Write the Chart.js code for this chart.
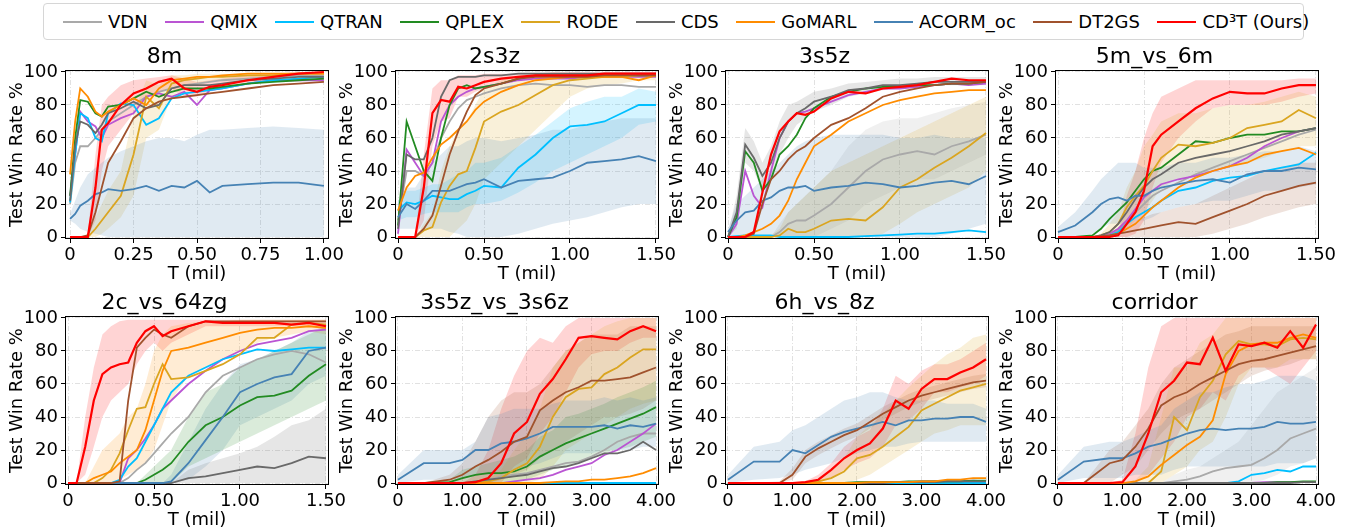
<!DOCTYPE html>
<html>
<head>
<meta charset="utf-8">
<script src="https://cdn.jsdelivr.net/npm/chart.js@4.4.1/dist/chart.umd.min.js"></script>
<style>
body{margin:0;width:1349px;height:531px;overflow:hidden;background:#fff;position:relative;font-family:"DejaVu Sans",sans-serif}
#legend{position:absolute;left:43px;top:3px;width:1261px;height:37px;box-sizing:border-box;border:1px solid #d6d6d6;border-radius:4px;display:flex;align-items:center;padding-left:19px;font-size:18px;color:#000;white-space:nowrap}
.item{display:flex;align-items:center;margin-right:17.5px}
.item i{display:inline-block;width:39px;height:2px;margin-right:6px}
canvas{position:absolute}
</style>
</head>
<body>
<div id="legend"></div>
<script>
const NAMES = ['VDN','QMIX','QTRAN','QPLEX','RODE','CDS','GoMARL','ACORM_oc','DT2GS','CD³T (Ours)'];
const COLORS = ['#a9a9a9','#ba55d3','#00bfff','#228b22','#daa520','#696969','#ff8c00','#4682b4','#a0522d','#ff0000'];

// x sample points (million steps)
const t8m = [0,0.02,0.04,0.07,0.1,0.125,0.15,0.2,0.25,0.3,0.35,0.4,0.45,0.5,0.55,0.6,0.7,0.8,0.9,1.0];
const t15 = [0,0.05,0.1,0.15,0.2,0.25,0.3,0.35,0.4,0.45,0.5,0.6,0.7,0.8,0.9,1.0,1.1,1.2,1.3,1.4,1.5];
const t56 = [0,0.1,0.2,0.25,0.3,0.35,0.4,0.45,0.5,0.55,0.6,0.7,0.8,0.9,1.0,1.1,1.2,1.3,1.4,1.5];
const t2c = [0,0.05,0.1,0.15,0.2,0.25,0.3,0.35,0.4,0.45,0.5,0.55,0.6,0.7,0.8,0.9,1.0,1.1,1.2,1.3,1.4,1.5];
const t4 = [0,0.4,0.8,1.0,1.2,1.4,1.6,1.8,2.0,2.2,2.4,2.6,2.8,3.0,3.2,3.4,3.6,3.8,4.0];

// tick values / labels
const ticks8m = [0,0.25,0.5,0.75,1.0];
const labels8m = ['0','0.25','0.50','0.75','1.00'];
const ticks15 = [0,0.5,1.0,1.5];
const labels15 = ['0','0.50','1.00','1.50'];
const ticks4 = [0,1,2,3,4];
const labels4 = ['0','1.00','2.00','3.00','4.00'];
const yTicks = [0,20,40,60,80,100];

// 8m
const m8_VDN    = [20,45,55,55,60,65,70,75,80,85,88,90,92,93,94,95,96,97,98,98];
const m8_QMIX   = [25,50,76,70,67,60,68,72,75,85,87,85,88,80,89,90,93,95,95,95];
const m8_QTRAN  = [21,50,75,72,60,58,75,81,80,68,72,84,87,88,89,90,93,95,96,97];
const m8_QPLEX  = [25,60,83,82,75,73,79,80,84,88,85,88,90,90,90,91,93,94,95,96];
const m8_RODE   = [0,0,0,0,5,10,15,25,50,85,78,93,95,96,97,97,98,98,99,99];
const m8_CDS    = [22,55,70,68,63,68,75,78,82,78,80,90,92,92,92,93,95,96,97,97];
const m8_GoMARL = [38,70,90,85,76,73,76,80,84,80,90,95,96,97,97,98,99,99,99,99];
const m8_ACORM  = [11,14,19,22,26,27,29,28,29,31,28,31,30,34,27,31,32,33,33,31];
const m8_DT2GS  = [0,0,0,1,15,30,45,58,72,78,82,84,85,86,87,88,90,92,93,94];
const m8_CD3T   = [0,0,0,0,30,65,69,80,87,90,94,96,90,88,91,92,95,97,99,100];
const m8_ACORM_lo = [10,8,5,3,2,1,0,0,0,0,0,0,0,0,0,0,0,0,0,0];
const m8_ACORM_hi = [14,22,30,38,42,45,48,52,55,58,60,60,58,62,65,65,66,67,66,65];
const m8_RODE_lo  = [0,0,0,0,0,2,5,12,25,60,65,85,90,92,94,95,96,97,98,98];
const m8_RODE_hi  = [0,0,0,2,12,20,28,40,75,95,92,98,98,99,99,99,99,99,100,100];
const m8_CD3T_lo  = [0,0,0,0,10,40,55,65,75,85,88,90,85,85,88,90,93,96,98,99];
const m8_CD3T_hi  = [0,0,0,2,50,80,85,92,95,96,97,98,96,94,95,96,98,99,100,100];

// 2s3z
const s23_VDN    = [10,40,40,37,45,60,70,78,83,85,87,90,92,93,92,92,91,92,92,91,91];
const s23_QMIX   = [2,53,45,37,45,70,80,85,88,90,91,93,95,96,96,96,97,97,97,97,97];
const s23_QTRAN  = [16,21,20,22,25,24,23,23,26,28,31,30,42,50,60,67,68,70,75,80,80];
const s23_QPLEX  = [7,70,55,40,34,60,80,90,92,90,91,93,96,98,98,98,98,98,98,98,98];
const s23_RODE   = [0,0,0,4,6,21,31,38,40,54,70,76,80,86,92,95,96,97,97,98,98];
const s23_CDS    = [5,50,47,47,60,85,95,97,97,97,98,98,99,99,99,99,99,99,99,99,99];
const s23_GoMARL = [16,30,37,39,48,56,60,65,70,77,82,88,92,95,96,97,97,97,97,95,98];
const s23_ACORM  = [12,20,17,22,28,28,28,30,32,33,35,30,34,35,36,40,45,46,47,49,46];
const s23_DT2GS  = [0,0,0,5,13,31,50,64,76,86,90,93,96,97,97,97,97,98,98,98,98];
const s23_CD3T   = [0,0,0,30,75,83,82,91,90,92,94,96,97,98,98,98,98,99,99,99,99];
const s23_ACORM_lo = [5,5,5,5,5,5,3,2,0,0,0,0,2,5,8,10,12,15,18,20,20];
const s23_ACORM_hi = [20,30,30,38,45,50,55,55,58,60,60,58,60,62,65,65,68,70,72,72,72];
const s23_QTRAN_lo = [10,12,12,14,15,15,15,15,18,20,20,22,27,33,40,45,50,55,60,68,70];
const s23_QTRAN_hi = [22,28,28,30,32,32,35,38,40,45,45,48,55,62,70,78,82,85,85,90,88];
const s23_RODE_lo  = [0,0,0,0,0,0,0,5,10,20,35,45,55,65,75,85,90,92,93,95,95];
const s23_RODE_hi  = [0,0,0,8,15,40,55,65,70,80,90,95,98,99,99,99,99,99,99,99,99];
const s23_CD3T_lo  = [0,0,0,10,55,70,72,85,85,88,90,93,95,96,96,96,96,97,97,97,97];
const s23_CD3T_hi  = [0,0,0,50,90,95,95,98,98,98,99,99,99,99,100,100,100,100,100,100,100];

// 3s5z
const s35_VDN    = [0,0,0,0,0,0,3,8,10,10,13,20,30,40,47,50,52,50,55,58,62];
const s35_QMIX   = [0,8,40,25,18,40,60,70,75,76,78,82,86,88,90,90,91,92,93,92,93];
const s35_QTRAN  = [0,0.5,1,1,1,1,0,0,0,0,0,0,0,0.5,1,1.5,2,2,3,4,3];
const s35_QPLEX  = [0,12,52,45,28,35,50,55,62,72,78,85,88,90,91,91,92,92,93,93,94];
const s35_RODE   = [0,0,0,0,0,0,1,5,3,3,5,10,11,10,18,30,35,42,48,55,63];
const s35_CDS    = [0,15,56,48,37,45,60,70,75,78,82,85,89,90,92,92,93,94,94,94,94];
const s35_GoMARL = [0,0,1,3,5,8,13,22,35,45,55,62,70,75,80,83,85,87,88,89,89];
const s35_ACORM  = [3,10,15,16,22,24,28,30,30,31,28,30,31,33,32,30,31,33,34,32,37];
const s35_DT2GS  = [0,0,0,2,20,35,40,47,52,55,60,68,72,78,85,88,90,92,93,93,94];
const s35_CD3T   = [0,0,0,3,27,50,64,70,75,74,76,84,88,87,90,91,92,94,96,95,95];
const s35_ACORM_lo = [0,0,0,0,0,0,0,0,0,0,0,0,0,0,0,0,0,0,2,5,8];
const s35_ACORM_hi = [5,20,25,30,35,40,45,50,55,58,60,62,62,62,62,60,60,62,60,60,60];
const s35_RODE_lo  = [0,0,0,0,0,0,0,0,0,0,0,0,0,0,2,8,15,20,25,30,40];
const s35_RODE_hi  = [0,0,0,0,0,1,5,15,20,25,30,40,45,50,55,60,65,70,75,80,85];
const s35_VDN_lo   = [0,0,0,0,0,0,0,0,0,0,0,5,10,20,25,30,35,35,40,45,50];
const s35_VDN_hi   = [0,0,0,0,0,0,8,15,20,25,30,40,55,65,70,72,72,75,78,80,82];
const s35_CDS_lo   = [0,5,45,40,28,35,50,60,68,72,76,80,85,87,89,90,91,92,92,92,92];
const s35_CDS_hi   = [2,25,66,58,45,55,70,80,82,85,88,90,93,94,95,96,96,97,97,97,97];

// 5m_vs_6m
const m56_VDN    = [0,0,0,0,1,4,9,15,20,25,28,33,38,42,46,50,54,58,62,65];
const m56_QMIX   = [0,0,0,0,2,5,10,17,24,28,32,35,37,40,43,48,55,60,64,66];
const m56_QTRAN  = [0,0,0,0,1,3,8,12,15,18,22,28,30,34,36,37,40,42,44,51];
const m56_QPLEX  = [0,0,1,5,11,16,21,28,35,40,42,50,58,57,60,62,62,64,64,66];
const m56_RODE   = [0,0,0,1,3,8,18,25,31,40,48,56,55,57,60,66,68,70,77,72];
const m56_CDS    = [0,0,0,1,3,8,15,23,30,35,38,45,48,50,52,55,58,62,64,66];
const m56_GoMARL = [0,0,0,0,1,2,5,8,13,18,22,30,36,40,43,45,50,52,54,50];
const m56_ACORM  = [3,7,15,20,23,24,22,25,25,28,30,32,34,35,33,38,40,40,42,41];
const m56_DT2GS  = [0,0,0,0.5,1,2,3,4,5,6,7,9,8,12,16,20,25,28,31,33];
const m56_CD3T   = [0,0,0,0,0,1,8,15,28,55,62,70,78,84,88,87,87,90,92,92];
const m56_CD3T_lo  = [0,0,0,0,0,0,0,2,10,30,45,60,70,78,80,80,80,82,85,87];
const m56_CD3T_hi  = [0,0,0,0,0,3,25,40,60,75,85,90,95,95,95,95,95,95,96,96];
const m56_ACORM_lo = [0,0,2,5,8,8,8,10,10,12,15,18,20,22,22,25,28,28,30,32];
const m56_ACORM_hi = [6,15,28,35,40,45,45,45,42,42,42,45,45,48,48,50,52,52,55,52];
const m56_RODE_lo  = [0,0,0,0,0,2,5,10,15,22,30,35,38,40,42,45,48,52,55,55];
const m56_RODE_hi  = [0,0,0,2,8,15,30,40,55,62,70,75,75,78,80,80,82,85,88,85];
const m56_DT2GS_lo = [0,0,0,0,0,0,0,0,0,0,0,0,0,2,5,8,12,15,18,20];
const m56_DT2GS_hi = [0,0,0,2,3,5,8,10,12,14,15,18,20,25,30,35,40,42,45,45];

// 2c_vs_64zg
const c2_VDN    = [0,0,0,0,0,0,0,3,8,12,18,24,30,40,55,65,70,75,78,80,78,73];
const c2_QMIX   = [0,0,0,0,0,0,0,15,20,27,35,45,50,60,68,75,80,84,86,88,92,93];
const c2_QTRAN  = [0,0,0,0,0,0,2,10,15,25,35,45,55,65,70,75,78,81,80,81,82,82];
const c2_QPLEX  = [0,0,0,0,0,0,0,0,0,2,5,8,12,25,35,40,47,52,53,56,65,72];
const c2_RODE   = [0,0,0,0,3,8,18,32,45,46,60,72,63,64,68,72,78,88,88,96,97,96];
const c2_CDS    = [0,0,0,0,0,0,0,0,0,0,0,0,0,3,4,6,8,10,9,12,16,15];
const c2_GoMARL = [0,0,0,3,5,7,12,16,20,32,50,68,80,82,85,88,91,93,94,94,95,94];
const c2_ACORM  = [0,0,0,0,0,0,0,0,0,0,0,0,1,12,26,40,55,60,64,66,80,82];
const c2_DT2GS  = [0,0,0,0,0,0,1,50,82,88,93,90,88,95,98,98,98,98,98,98,98,98];
const c2_CD3T   = [0,0,22,50,66,70,72,73,85,92,95,89,92,95,98,97,97,97,97,96,97,95];
const c2_CD3T_lo   = [0,0,5,22,40,50,55,60,72,80,85,80,85,90,95,95,95,95,95,95,95,93];
const c2_CD3T_hi   = [0,0,40,70,90,95,98,99,99,99,99,99,99,99,99,99,99,99,99,99,99,99];
const c2_CDS_lo    = [0,0,0,0,0,0,0,0,0,0,0,0,0,0,0,0,0,0,0,0,0,0];
const c2_CDS_hi    = [0,0,0,0,0,0,0,0,0,0,0,0,0,8,12,15,18,22,28,35,38,45];
const c2_QPLEX_lo  = [0,0,0,0,0,0,0,0,0,0,0,0,0,10,15,20,25,30,35,40,45,50];
const c2_QPLEX_hi  = [0,0,0,0,0,0,0,0,0,5,10,15,20,40,55,60,70,75,80,85,90,95];
const c2_GoMARL_lo = [0,0,0,0,0,0,2,5,8,12,20,35,50,65,70,75,80,85,88,90,92,90];
const c2_GoMARL_hi = [0,0,0,10,20,25,30,40,45,60,80,90,95,97,98,98,99,99,99,99,99,99];
const c2_ACORM_lo  = [0,0,0,0,0,0,0,0,0,0,0,0,0,2,10,20,35,40,45,50,60,65];
const c2_ACORM_hi  = [0,0,0,0,0,0,0,0,0,0,0,0,5,25,45,60,72,75,80,85,92,95];

// 3s5z_vs_3s6z
const z36_VDN    = [0,0,0,0,1,2,4,5,6,8,10,12,13,16,20,25,28,30,30];
const z36_QMIX   = [0,0,0,0,0,0,0,1,2,3,5,8,10,12,17,20,25,30,36];
const z36_QTRAN  = [0,0,0,0,0,0,0,0,0,0,0,0,0,0,0,0,0,0,0];
const z36_QPLEX  = [0,0,0.5,3,5,6,6,7,10,16,20,24,27,30,33,36,39,42,46];
const z36_RODE   = [0,0,0,0,0,1,3,8,12,22,40,52,57,58,66,70,76,81,81];
const z36_CDS    = [0,0,0,0,1,2,3,4,5,7,9,10,12,15,18,18,20,25,20];
const z36_GoMARL = [0,0,0,0,0,0,0,0,0,0,0.5,1,1,2,2,3,4,6,9];
const z36_ACORM  = [2,12,12,14,20,20,24,25,27,30,34,34,34,34,35,33,35,34,36];
const z36_DT2GS  = [0,0,2,5,10,14,19,25,28,44,50,55,58,62,62,63,64,67,70];
const z36_CD3T   = [0,0,0,0,0.5,3,12,30,37,54,63,75,88,89,88,87,92,95,92];
const z36_CD3T_lo  = [0,0,0,0,0,0,0,10,15,30,40,55,70,78,80,80,85,88,88];
const z36_CD3T_hi  = [0,0,0,0,5,20,45,65,80,88,85,95,100,100,100,100,100,100,100];
const z36_ACORM_lo = [0,2,2,3,5,5,5,8,10,12,15,18,18,18,20,20,20,22,22];
const z36_ACORM_hi = [5,20,20,20,25,40,42,45,45,45,48,50,50,50,52,50,52,50,52];
const z36_DT2GS_lo = [0,0,0,0,0,0,2,5,8,15,20,25,30,35,40,40,42,45,50];
const z36_DT2GS_hi = [0,0,5,12,25,40,50,55,55,60,70,80,85,90,90,90,95,95,95];
const z36_RODE_lo  = [0,0,0,0,0,0,0,0,0,2,10,20,25,30,35,40,45,48,50];
const z36_RODE_hi  = [0,0,0,0,0,2,8,20,30,45,70,80,85,90,95,98,100,100,100];
const z36_QPLEX_lo = [0,0,0,0,0,0,0,0,2,5,8,10,12,15,18,20,22,25,28];
const z36_QPLEX_hi = [0,0,2,8,10,12,14,16,20,28,32,40,42,45,48,52,55,58,62];

// 6h_vs_8z
const h6_VDN    = [0,0,0,0,0,0,0,0,0,0.5,0.5,0.5,0.5,0.5,1,1,1,1,1];
const h6_QMIX   = [0,0,0,0,0,0,0,0,0,0,0.5,0.5,0.5,1,1,1,1,1.5,1];
const h6_QTRAN  = [0,0,0,0,0,0,0,0,0,0,0,0,0,0,0,0,0,0,0];
const h6_QPLEX  = [0,0,0,0,0,0,0,0,0.5,0.5,0.5,0.5,1,1,1,1,1,1.5,1.5];
const h6_RODE   = [0,0,0,0,0,1,3,7,15,17,22,28,34,44,48,52,56,58,60];
const h6_CDS    = [0,0,0,0,0,0,0,0,0,0,0,0.5,0.5,0.5,0.5,1,1,1,1];
const h6_GoMARL = [0,0,0,0,0,0,0,0,0,0.5,0.5,0.5,0.5,1,1,2,2,3,3];
const h6_ACORM  = [2,13,13,20,18,23,28,31,33,35,37,35,38,38,39,39,40,40,37];
const h6_DT2GS  = [0,0,0,5,16,21,25,29,32,37,42,46,50,53,55,57,59,61,62];
const h6_CD3T   = [0,0,0,0,0.5,2,8,15,20,24,33,50,45,57,63,63,67,70,75];
const h6_ACORM_lo = [0,2,3,5,8,10,12,15,18,20,22,22,24,25,25,25,25,25,25];
const h6_ACORM_hi = [5,22,25,32,35,40,45,50,52,55,55,52,50,50,50,48,48,48,45];
const h6_RODE_lo  = [0,0,0,0,0,0,0,0,2,5,10,15,20,25,30,32,35,35,35];
const h6_RODE_hi  = [0,0,0,0,0,2,8,15,28,35,42,50,58,65,72,78,82,88,90];
const h6_CD3T_lo  = [0,0,0,0,0,0,3,8,12,15,22,35,38,45,55,55,58,60,65];
const h6_CD3T_hi  = [0,0,0,0,1,5,12,22,28,32,45,65,60,68,72,72,75,80,85];
const h6_DT2GS_lo = [0,0,0,2,12,17,21,25,28,33,38,42,46,49,51,53,55,57,58];
const h6_DT2GS_hi = [0,0,1,9,20,25,29,33,36,41,46,50,54,57,59,61,63,65,66];

// corridor
const co_VDN    = [0,0,0,0,0,0,0,1,2,4,7,9,10,11,15,20,27,30,33];
const co_QMIX   = [0,0,0,0,0,0,0,0,0,0,0,0,0,0,0.5,0.5,0.5,0.5,0.5];
const co_QTRAN  = [0,0,0,0,0,0,0,0,0,0,0,0,1,5,6,8,7,10,10];
const co_QPLEX  = [0,0,0,0,0,0,0,0,0,0,0,0,0,0,0,0.5,0.5,1,1];
const co_RODE   = [0,0,0,0,0,0,7,40,32,52,62,78,86,84,84,83,87,88,87];
const co_CDS    = [0,0,0,0,0,0,0,0,0,0,0,0,0,0,0,0,0,0.5,0.5];
const co_GoMARL = [0,0,0,0,1,4,11,17,23,28,38,66,80,84,85,85,88,90,88];
const co_ACORM  = [2,13,15,15,18,22,24,27,30,32,33,32,33,33,34,37,36,36,37];
const co_DT2GS  = [0,0,12,14,22,33,47,52,55,60,64,68,72,74,75,77,79,81,83];
const co_CD3T   = [0,0,0,0.5,10,30,55,62,73,72,88,68,84,83,85,82,92,82,96];
const co_CD3T_lo  = [0,0,0,0,0,5,15,25,40,45,55,50,65,70,70,65,60,70,80];
const co_CD3T_hi  = [0,0,0,2,30,70,95,100,100,100,100,100,100,100,100,100,100,100,100];
const co_ACORM_lo = [0,3,3,3,5,5,5,8,10,10,10,10,10,10,10,12,12,12,15];
const co_ACORM_hi = [5,22,25,25,28,32,35,45,50,55,55,58,60,60,62,65,65,65,62];
const co_DT2GS_lo = [0,0,0,5,10,20,30,38,42,45,50,55,60,65,68,70,72,75,75];
const co_DT2GS_hi = [0,0,20,25,35,45,60,70,75,80,85,90,92,95,95,95,95,95,95];
const co_RODE_lo  = [0,0,0,0,0,0,0,5,10,20,25,40,60,70,70,70,75,75,75];
const co_RODE_hi  = [0,0,0,0,2,10,40,70,70,85,90,100,100,100,100,100,100,100,100];
const co_VDN_lo   = [0,0,0,0,0,0,0,0,0,0,0,0,0,0,2,5,10,12,15];
const co_VDN_hi   = [0,0,0,0,0,0,0,5,8,10,15,20,25,35,45,55,60,65,70];

const PANELS = [
  {title:'8m', t:t8m, xMin:-0.02, xMax:1.02, xTicks:ticks8m, xLabels:labels8m,
   ys:[m8_VDN,m8_QMIX,m8_QTRAN,m8_QPLEX,m8_RODE,m8_CDS,m8_GoMARL,m8_ACORM,m8_DT2GS,m8_CD3T],
   bands:[[7,m8_ACORM_lo,m8_ACORM_hi],[4,m8_RODE_lo,m8_RODE_hi],[9,m8_CD3T_lo,m8_CD3T_hi]]},
  {title:'2s3z', t:t15, xMin:-0.0175, xMax:1.5175, xTicks:ticks15, xLabels:labels15,
   ys:[s23_VDN,s23_QMIX,s23_QTRAN,s23_QPLEX,s23_RODE,s23_CDS,s23_GoMARL,s23_ACORM,s23_DT2GS,s23_CD3T],
   bands:[[7,s23_ACORM_lo,s23_ACORM_hi],[2,s23_QTRAN_lo,s23_QTRAN_hi],[4,s23_RODE_lo,s23_RODE_hi],[9,s23_CD3T_lo,s23_CD3T_hi]]},
  {title:'3s5z', t:t15, xMin:-0.0175, xMax:1.5175, xTicks:ticks15, xLabels:labels15,
   ys:[s35_VDN,s35_QMIX,s35_QTRAN,s35_QPLEX,s35_RODE,s35_CDS,s35_GoMARL,s35_ACORM,s35_DT2GS,s35_CD3T],
   bands:[[7,s35_ACORM_lo,s35_ACORM_hi],[4,s35_RODE_lo,s35_RODE_hi],[0,s35_VDN_lo,s35_VDN_hi],[5,s35_CDS_lo,s35_CDS_hi]]},
  {title:'5m_vs_6m', t:t56, xMin:-0.0175, xMax:1.5175, xTicks:ticks15, xLabels:labels15,
   ys:[m56_VDN,m56_QMIX,m56_QTRAN,m56_QPLEX,m56_RODE,m56_CDS,m56_GoMARL,m56_ACORM,m56_DT2GS,m56_CD3T],
   bands:[[7,m56_ACORM_lo,m56_ACORM_hi],[4,m56_RODE_lo,m56_RODE_hi],[8,m56_DT2GS_lo,m56_DT2GS_hi],[9,m56_CD3T_lo,m56_CD3T_hi]]},
  {title:'2c_vs_64zg', t:t2c, xMin:-0.0175, xMax:1.5175, xTicks:ticks15, xLabels:labels15,
   ys:[c2_VDN,c2_QMIX,c2_QTRAN,c2_QPLEX,c2_RODE,c2_CDS,c2_GoMARL,c2_ACORM,c2_DT2GS,c2_CD3T],
   bands:[[5,c2_CDS_lo,c2_CDS_hi],[3,c2_QPLEX_lo,c2_QPLEX_hi],[7,c2_ACORM_lo,c2_ACORM_hi],[6,c2_GoMARL_lo,c2_GoMARL_hi],[9,c2_CD3T_lo,c2_CD3T_hi]]},
  {title:'3s5z_vs_3s6z', t:t4, xMin:-0.046, xMax:4.046, xTicks:ticks4, xLabels:labels4,
   ys:[z36_VDN,z36_QMIX,z36_QTRAN,z36_QPLEX,z36_RODE,z36_CDS,z36_GoMARL,z36_ACORM,z36_DT2GS,z36_CD3T],
   bands:[[7,z36_ACORM_lo,z36_ACORM_hi],[3,z36_QPLEX_lo,z36_QPLEX_hi],[4,z36_RODE_lo,z36_RODE_hi],[8,z36_DT2GS_lo,z36_DT2GS_hi],[9,z36_CD3T_lo,z36_CD3T_hi]]},
  {title:'6h_vs_8z', t:t4, xMin:-0.046, xMax:4.046, xTicks:ticks4, xLabels:labels4,
   ys:[h6_VDN,h6_QMIX,h6_QTRAN,h6_QPLEX,h6_RODE,h6_CDS,h6_GoMARL,h6_ACORM,h6_DT2GS,h6_CD3T],
   bands:[[7,h6_ACORM_lo,h6_ACORM_hi],[4,h6_RODE_lo,h6_RODE_hi],[8,h6_DT2GS_lo,h6_DT2GS_hi],[9,h6_CD3T_lo,h6_CD3T_hi]]},
  {title:'corridor', t:t4, xMin:-0.046, xMax:4.046, xTicks:ticks4, xLabels:labels4,
   ys:[co_VDN,co_QMIX,co_QTRAN,co_QPLEX,co_RODE,co_CDS,co_GoMARL,co_ACORM,co_DT2GS,co_CD3T],
   bands:[[7,co_ACORM_lo,co_ACORM_hi],[0,co_VDN_lo,co_VDN_hi],[4,co_RODE_lo,co_RODE_hi],[8,co_DT2GS_lo,co_DT2GS_hi],[9,co_CD3T_lo,co_CD3T_hi]]}
];

// legend (html)
const leg = document.getElementById('legend');
NAMES.forEach((n, i) => {
  const it = document.createElement('div');
  it.className = 'item';
  const ln = document.createElement('i');
  ln.style.background = COLORS[i];
  it.appendChild(ln);
  const tx = document.createElement('span');
  tx.textContent = n;
  it.appendChild(tx);
  leg.appendChild(it);
});

function alpha(hex, a) {
  const v = parseInt(hex.slice(1), 16);
  return `rgba(${v >> 16},${(v >> 8) & 255},${v & 255},${a})`;
}
function pts(t, ys) { return t.map((x, i) => ({x: x, y: ys[i]})); }

const framePlugin = {
  id: 'frame',
  afterDatasetsDraw(chart) {
    const a = chart.chartArea, ctx = chart.ctx;
    ctx.save();
    ctx.strokeStyle = '#000';
    ctx.lineWidth = 1;
    ctx.strokeRect(Math.round(a.left) + 0.5, Math.round(a.top) + 0.5,
                   Math.round(a.right - a.left) - 1, Math.round(a.bottom - a.top) - 1);
    ctx.restore();
  }
};

Chart.defaults.font.family = "'DejaVu Sans', sans-serif";
Chart.defaults.color = '#000';

PANELS.forEach((p, k) => {
  const cv = document.createElement('canvas');
  cv.width = 359; cv.height = 240;
  cv.style.left = (330 * (k % 4)) + 'px';
  cv.style.top = (k < 4 ? 45 : 291) + 'px';
  document.body.appendChild(cv);

  const datasets = [];
  p.bands.forEach(([si, lo, hi]) => {
    const hiIdx = datasets.length;
    datasets.push({data: pts(p.t, hi), borderColor: 'transparent', borderWidth: 0, pointRadius: 0, fill: false, order: 1000});
    datasets.push({data: pts(p.t, lo), borderColor: 'transparent', borderWidth: 0, pointRadius: 0,
                   fill: hiIdx, backgroundColor: alpha(COLORS[si], 0.17), order: 1000});
  });
  p.ys.forEach((ys, i) => {
    datasets.push({label: NAMES[i], data: pts(p.t, ys), borderColor: COLORS[i],
                   borderWidth: i === 9 ? 2.2 : 1.8, pointRadius: 0, fill: false, tension: 0, order: 100 - i});
  });

  new Chart(cv, {
    type: 'line',
    data: {datasets},
    plugins: [framePlugin],
    options: {
      responsive: false, animation: false, devicePixelRatio: 1,
      layout: {padding: {left: 0, right: 30, top: 0, bottom: 0}},
      plugins: {
        legend: {display: false}, tooltip: {enabled: false},
        title: {display: true, text: p.title, color: '#000',
                font: {size: 22, weight: 'normal', lineHeight: 1}, padding: {top: 1, bottom: 2}}
      },
      scales: {
        x: {
          type: 'linear', min: p.xMin, max: p.xMax,
          afterBuildTicks: s => { s.ticks = p.xTicks.map(v => ({value: v})); },
          afterFit: s => { s.height = 46; },
          ticks: {font: {size: 18}, color: '#000', padding: 2, maxRotation: 0, autoSkip: false,
                  callback: (v, i) => p.xLabels[i]},
          grid: {color: '#d9d9d9', lineWidth: 0.8, tickLength: 4, tickColor: '#000', tickWidth: 1, tickBorderDash: []},
          border: {display: false, dash: [5, 2, 1, 2]},
          title: {display: true, text: 'T (mil)', font: {size: 18}, color: '#000', padding: {top: 0, bottom: 0}}
        },
        y: {
          min: -1.2, max: 101.2,
          afterBuildTicks: s => { s.ticks = yTicks.map(v => ({value: v})); },
          afterFit: s => { s.width = 65; },
          ticks: {font: {size: 18}, color: '#000', padding: 3},
          grid: {color: '#d9d9d9', lineWidth: 0.8, tickLength: 4, tickColor: '#000', tickWidth: 1, tickBorderDash: []},
          border: {display: false, dash: [5, 2, 1, 2]},
          title: {display: true, text: 'Test Win Rate %', font: {size: 18}, color: '#000', padding: {top: 7, bottom: 0}}
        }
      }
    }
  });
});
</script>
</body>
</html>
